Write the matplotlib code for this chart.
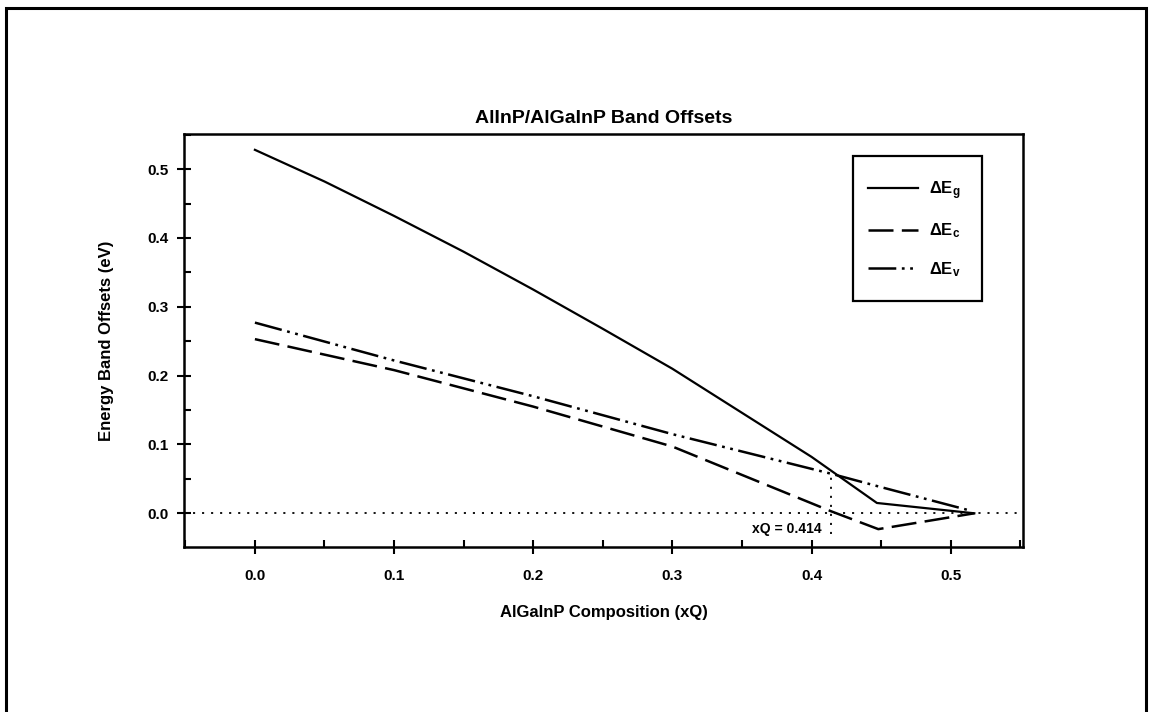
import matplotlib
matplotlib.use('Agg')
import matplotlib.pyplot as plt
from matplotlib.patches import Rectangle
from matplotlib.ticker import MultipleLocator, FormatStrFormatter

plt.rcParams['font.family'] = 'Liberation Sans'
plt.rcParams['font.weight'] = 'bold'
plt.rcParams['mathtext.fontset'] = 'custom'
plt.rcParams['mathtext.rm'] = 'Liberation Sans:bold'
plt.rcParams['mathtext.it'] = 'Liberation Sans:bold'
plt.rcParams['mathtext.bf'] = 'Liberation Sans:bold'
plt.rcParams['lines.scale_dashes'] = False

# values
x_g = [0.0, 0.05, 0.1, 0.15, 0.2, 0.25, 0.3, 0.35, 0.4, 0.447, 0.517]
dE_g = [0.528, 0.482, 0.432, 0.380, 0.325, 0.268, 0.210, 0.146, 0.082, 0.015, 0.0]

x_c = [0.0, 0.1, 0.2, 0.3, 0.414, 0.448, 0.517]
dE_c = [0.253, 0.208, 0.155, 0.097, 0.003, -0.023, 0.0]

x_v = [0.0, 0.1, 0.2, 0.3, 0.415, 0.45, 0.512]
dE_v = [0.277, 0.222, 0.170, 0.115, 0.057, 0.038, 0.005]

xq = 0.414
xq_label = 'xQ = 0.414'

fig = plt.figure(figsize=(11.54, 7.12), dpi=100)
fig.patches.append(Rectangle((6 / 1154, -0.2), 1140 / 1154, 1.2 - 8 / 712,
                             transform=fig.transFigure, fill=False,
                             edgecolor='black', linewidth=2.2))

ax = fig.add_axes([0.1594, 0.2317, 0.7271, 0.5801])

ax.plot(x_g, dE_g, color='black', lw=1.6, label=r'$\Delta E_g$')
ax.plot(x_c, dE_c, color='black', lw=1.8, dashes=(18, 6), label=r'$\Delta E_c$')
ax.plot(x_v, dE_v, color='black', lw=1.8, dashes=(20, 4, 2, 4, 2, 4), label=r'$\Delta E_v$')

ax.axhline(0, color='black', lw=1.3, dashes=(1.5, 5))
ax.plot([xq, xq], [-0.03, 0.057], color='black', lw=1.3, dashes=(1.5, 5))
ax.text(xq - 0.007, -0.023, xq_label, ha='right', va='center', fontsize=10, fontweight='bold')

ax.set_xlim(-0.051, 0.552)
ax.set_ylim(-0.049, 0.551)
ax.xaxis.set_major_locator(MultipleLocator(0.1))
ax.xaxis.set_minor_locator(MultipleLocator(0.05))
ax.yaxis.set_major_locator(MultipleLocator(0.1))
ax.yaxis.set_minor_locator(MultipleLocator(0.05))
ax.xaxis.set_major_formatter(FormatStrFormatter('%.1f'))
ax.yaxis.set_major_formatter(FormatStrFormatter('%.1f'))
ax.tick_params(which='major', direction='inout', length=10, width=1.5, labelsize=11, pad=6)
ax.tick_params(which='minor', direction='in', length=5, width=1.5)
ax.tick_params(axis='x', pad=11)
for s in ax.spines.values():
    s.set_linewidth(1.8)

ax.set_title('AlInP/AlGaInP Band Offsets', fontsize=14, fontweight='bold', pad=8)
ax.set_xlabel('AlGaInP Composition (xQ)', fontsize=12, fontweight='bold', labelpad=16)
ax.set_ylabel('Energy Band Offsets (eV)', fontsize=12, fontweight='bold', labelpad=24)

# legend entries without frame, box drawn separately to match the reference size
ax.legend(loc='upper left', bbox_to_anchor=(0.815, 0.891), fontsize=12,
          handlelength=3.0, handletextpad=0.7, labelspacing=1.2,
          borderpad=0.0, borderaxespad=0.0, frameon=False)
ax.add_patch(Rectangle((0.797, 0.596), 0.154, 0.351, transform=ax.transAxes,
                       fill=False, edgecolor='black', linewidth=1.6, zorder=5))

plt.savefig('out.png', dpi=100)
plt.close()
